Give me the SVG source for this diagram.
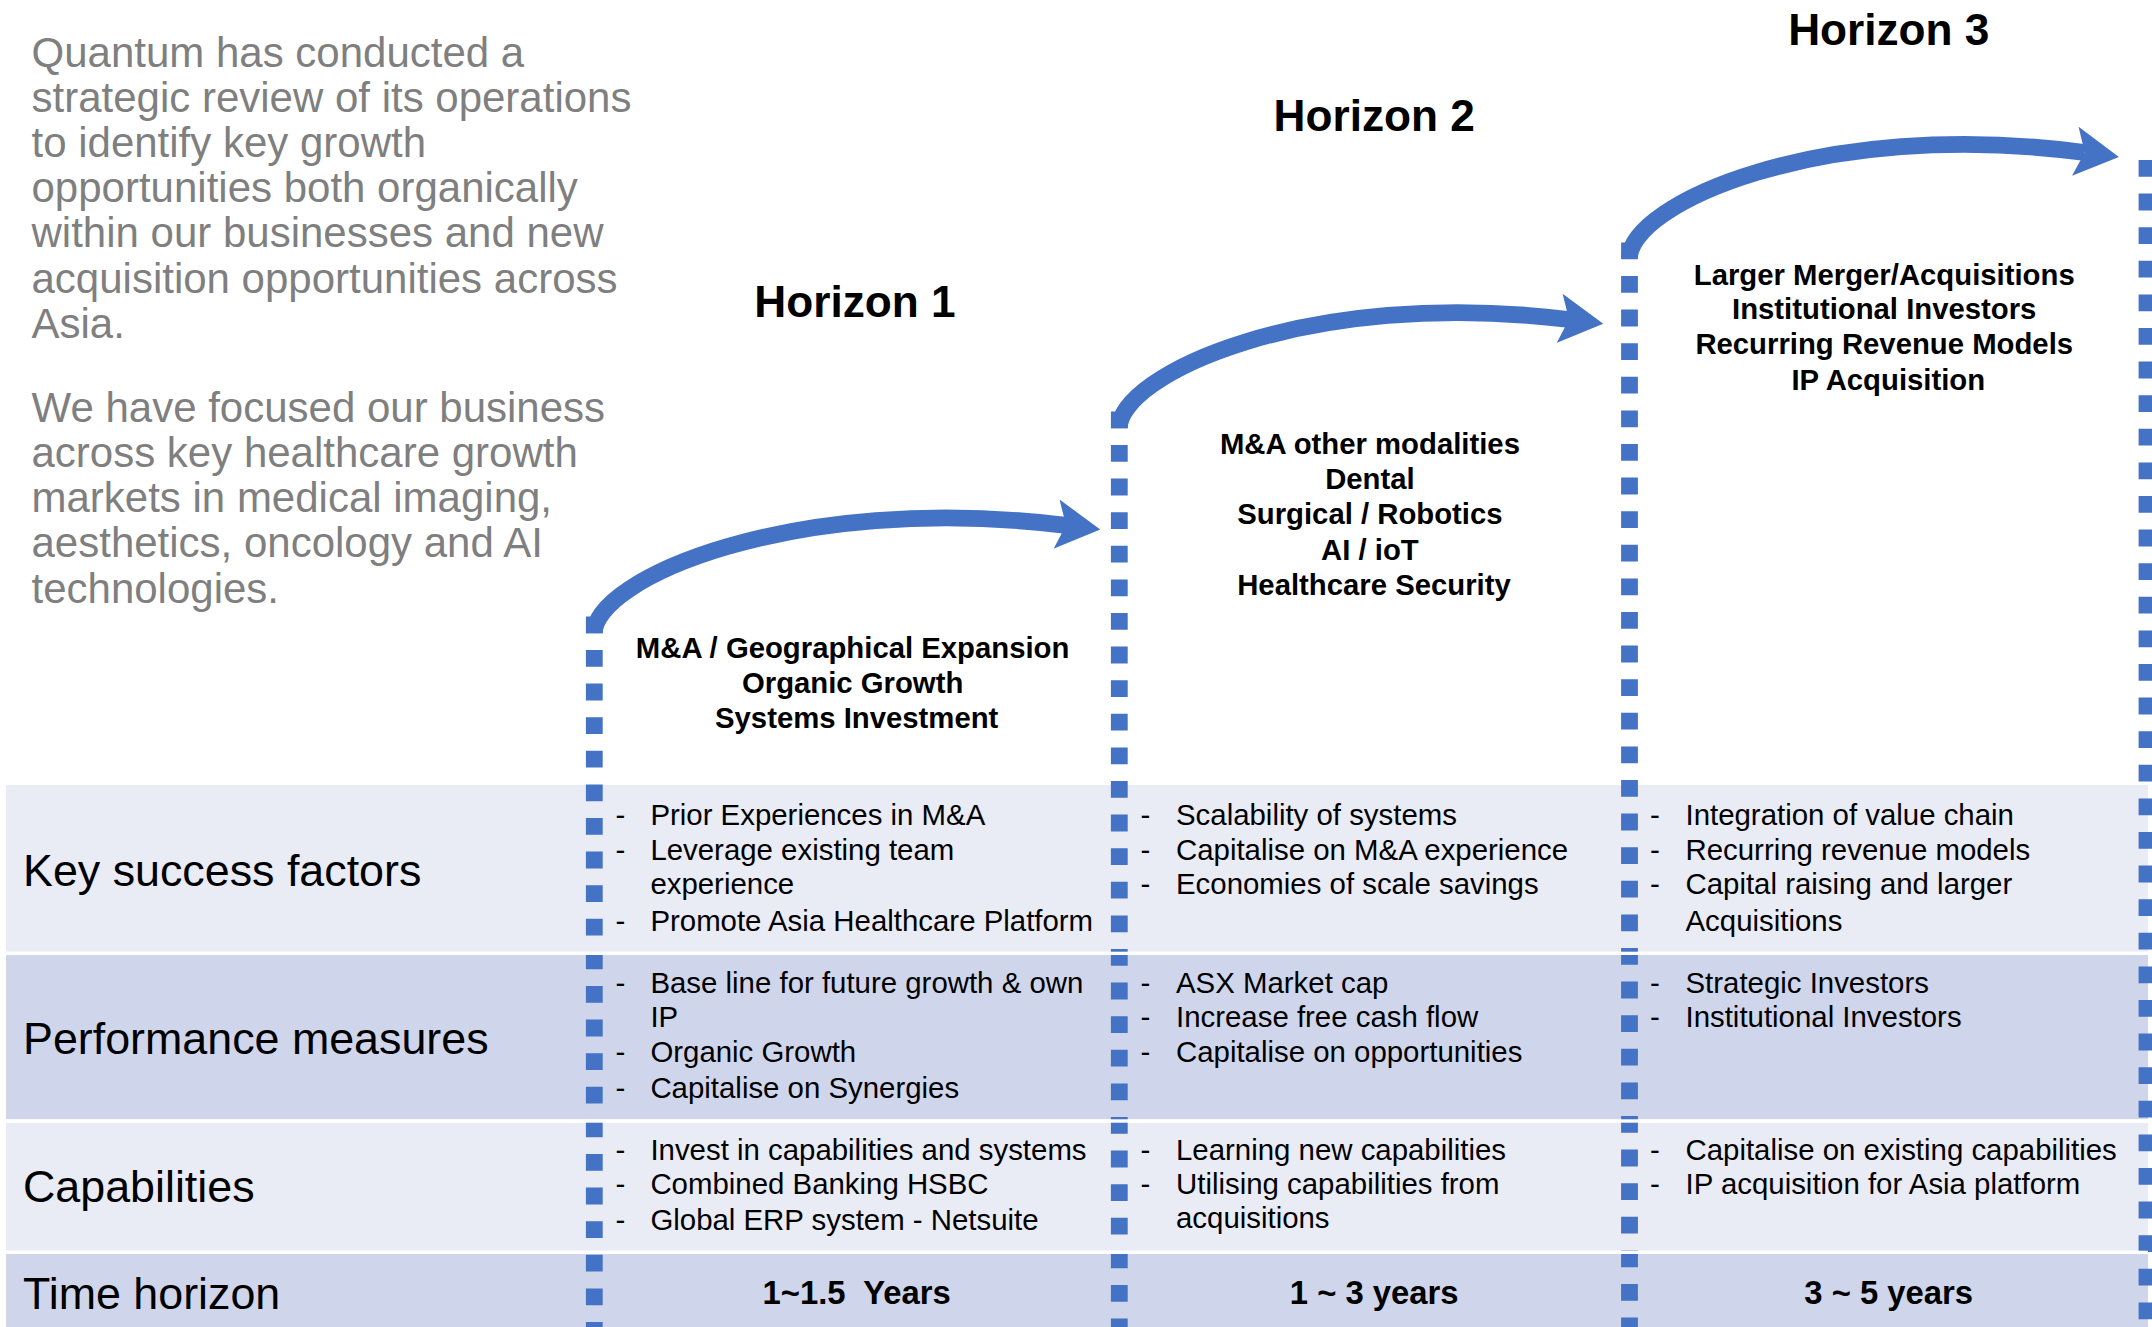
<svg xmlns="http://www.w3.org/2000/svg" width="2152" height="1327" viewBox="0 0 2152 1327">
  <defs>
    <style>
      text { font-family: "Liberation Sans", Arial, "Noto Sans", sans-serif; fill: #000; }
      .para { font-size: 42px; fill: #7F7F7F; }
      .title { font-size: 44.2px; font-weight: bold; text-anchor: middle; }
      .focus { font-size: 29.3px; font-weight: bold; text-anchor: middle; }
      .label { font-size: 44.8px; }
      .item { font-size: 29.4px; }
      .term { font-size: 32.8px; font-weight: bold; text-anchor: middle; white-space: pre; }
      .band-light { fill: #E9EBF5; }
      .band-dark { fill: #CFD5EA; }
      .sep { fill: #FFFFFF; }
      .divider { fill: none; stroke: #4472C4; stroke-width: 16.8; stroke-dasharray: 16.8 16.8; }
      .arc { fill: none; stroke: #4472C4; stroke-width: 16.8; marker-end: url(#head); }
    </style>
    <marker id="head" markerUnits="userSpaceOnUse" markerWidth="44" markerHeight="50"
            viewBox="0 0 44 50" refX="9.5" refY="25" orient="auto">
      <path d="M0,0.2 L44,25 L0,49.8 L9.5,25 Z" fill="#4472C4"/>
    </marker>
  </defs>

  <rect width="2152" height="1327" fill="#FFFFFF"/>

  <!-- table bands -->
  <g id="table-bands">
    <rect class="band-light" x="6" y="785" width="2142" height="166.7"/>
    <rect class="band-dark" x="6" y="955" width="2142" height="164.3"/>
    <rect class="band-light" x="6" y="1122.7" width="2142" height="128"/>
    <rect class="band-dark" x="6" y="1254" width="2142" height="73"/>
  </g>

  <!-- dotted horizon boundaries -->
  <g id="dividers">
    <path class="divider" d="M594.3,616.4 V1327"/>
    <path class="divider" d="M1119.3,411.4 V1327"/>
    <path class="divider" d="M1629.5,242.4 V1327"/>
    <path class="divider" d="M2147,160 V1327"/>
  </g>

  <!-- white rules between table rows -->
  <g id="row-rules">
    <rect class="sep" x="6" y="951.7" width="2142" height="3.3"/>
    <rect class="sep" x="6" y="1119.3" width="2142" height="3.4"/>
    <rect class="sep" x="6" y="1250.7" width="2142" height="3.3"/>
  </g>

  <!-- growth arrows between horizons -->
  <g id="connectors">
    <path id="arrow-h1" class="arc" d="M594.3,633.2 C594.3,580 790,492 1066,525.3"/>
    <path id="arrow-h2" class="arc" d="M1119.3,428.3 C1119.3,375.3 1305.8,287.3 1569,319.5"/>
    <path id="arrow-h3" class="arc" d="M1629.5,258.3 C1629.5,205.3 1818.4,117.3 2084.7,152.5"/>
  </g>

  <!-- introduction -->
  <g id="intro">
    <text class="para">
      <tspan x="31.5" y="66.5">Quantum has conducted a</tspan>
      <tspan x="31.5" y="111.7">strategic review of its operations</tspan>
      <tspan x="31.5" y="156.9">to identify key growth</tspan>
      <tspan x="31.5" y="202.1">opportunities both organically</tspan>
      <tspan x="31.5" y="247.3">within our businesses and new</tspan>
      <tspan x="31.5" y="292.5">acquisition opportunities across</tspan>
      <tspan x="31.5" y="337.7">Asia.</tspan>
    </text>
    <text class="para">
      <tspan x="31.5" y="421.7">We have focused our business</tspan>
      <tspan x="31.5" y="466.9">across key healthcare growth</tspan>
      <tspan x="31.5" y="512.1">markets in medical imaging,</tspan>
      <tspan x="31.5" y="557.3">aesthetics, oncology and AI</tspan>
      <tspan x="31.5" y="602.5">technologies.</tspan>
    </text>
  </g>

  <!-- horizon 1 -->
  <g id="horizon-1">
    <text class="title" x="855" y="316.7">Horizon 1</text>
    <text class="focus">
      <tspan x="856.7" y="658.3">M&amp;A / Geographical Expansion</tspan>
      <tspan x="856.7" y="693.3">Organic Growth</tspan>
      <tspan x="856.7" y="728.3">Systems Investment</tspan>
    </text>
  </g>

  <!-- horizon 2 -->
  <g id="horizon-2">
    <text class="title" x="1374.2" y="130.7">Horizon 2</text>
    <text class="focus">
      <tspan x="1374" y="454">M&amp;A other modalities</tspan>
      <tspan x="1374" y="489.3">Dental</tspan>
      <tspan x="1374" y="524">Surgical / Robotics</tspan>
      <tspan x="1374" y="560">AI / ioT</tspan>
      <tspan x="1374" y="595">Healthcare Security</tspan>
    </text>
  </g>

  <!-- horizon 3 -->
  <g id="horizon-3">
    <text class="title" x="1888.8" y="45">Horizon 3</text>
    <text class="focus">
      <tspan x="1888.3" y="285">Larger Merger/Acquisitions</tspan>
      <tspan x="1888.3" y="319.3">Institutional Investors</tspan>
      <tspan x="1888.3" y="354.3">Recurring Revenue Models</tspan>
      <tspan x="1888.3" y="390">IP Acquisition</tspan>
    </text>
  </g>

  <!-- row: key success factors -->
  <g id="row-key-success-factors">
    <text class="label" x="23" y="886">Key success factors</text>
    <text class="item">
      <tspan x="615.4" y="825">-</tspan><tspan x="650.4" y="825">Prior Experiences in M&amp;A</tspan>
      <tspan x="615.4" y="859.5">-</tspan><tspan x="650.4" y="859.5">Leverage existing team</tspan>
      <tspan x="650.4" y="894.3">experience</tspan>
      <tspan x="615.4" y="930.5">-</tspan><tspan x="650.4" y="930.5">Promote Asia Healthcare Platform</tspan>
    </text>
    <text class="item">
      <tspan x="1140.4" y="825">-</tspan><tspan x="1176" y="825">Scalability of systems</tspan>
      <tspan x="1140.4" y="859.5">-</tspan><tspan x="1176" y="859.5">Capitalise on M&amp;A experience</tspan>
      <tspan x="1140.4" y="894.3">-</tspan><tspan x="1176" y="894.3">Economies of scale savings</tspan>
    </text>
    <text class="item">
      <tspan x="1650" y="825">-</tspan><tspan x="1685.5" y="825">Integration of value chain</tspan>
      <tspan x="1650" y="859.5">-</tspan><tspan x="1685.5" y="859.5">Recurring revenue models</tspan>
      <tspan x="1650" y="894.3">-</tspan><tspan x="1685.5" y="894.3">Capital raising and larger</tspan>
      <tspan x="1685.5" y="930.5">Acquisitions</tspan>
    </text>
  </g>

  <!-- row: performance measures -->
  <g id="row-performance-measures">
    <text class="label" x="23" y="1054">Performance measures</text>
    <text class="item">
      <tspan x="615.4" y="992.7">-</tspan><tspan x="650.4" y="992.7">Base line for future growth &amp; own</tspan>
      <tspan x="650.4" y="1027.3">IP</tspan>
      <tspan x="615.4" y="1061.7">-</tspan><tspan x="650.4" y="1061.7">Organic Growth</tspan>
      <tspan x="615.4" y="1098.3">-</tspan><tspan x="650.4" y="1098.3">Capitalise on Synergies</tspan>
    </text>
    <text class="item">
      <tspan x="1140.4" y="992.7">-</tspan><tspan x="1176" y="992.7">ASX Market cap</tspan>
      <tspan x="1140.4" y="1027.3">-</tspan><tspan x="1176" y="1027.3">Increase free cash flow</tspan>
      <tspan x="1140.4" y="1061.7">-</tspan><tspan x="1176" y="1061.7">Capitalise on opportunities</tspan>
    </text>
    <text class="item">
      <tspan x="1650" y="992.7">-</tspan><tspan x="1685.5" y="992.7">Strategic Investors</tspan>
      <tspan x="1650" y="1027.3">-</tspan><tspan x="1685.5" y="1027.3">Institutional Investors</tspan>
    </text>
  </g>

  <!-- row: capabilities -->
  <g id="row-capabilities">
    <text class="label" x="23" y="1201.7">Capabilities</text>
    <text class="item">
      <tspan x="615.4" y="1160">-</tspan><tspan x="650.4" y="1160">Invest in capabilities and systems</tspan>
      <tspan x="615.4" y="1194.3">-</tspan><tspan x="650.4" y="1194.3">Combined Banking HSBC</tspan>
      <tspan x="615.4" y="1230">-</tspan><tspan x="650.4" y="1230">Global ERP system - Netsuite</tspan>
    </text>
    <text class="item">
      <tspan x="1140.4" y="1160">-</tspan><tspan x="1176" y="1160">Learning new capabilities</tspan>
      <tspan x="1140.4" y="1194.3">-</tspan><tspan x="1176" y="1194.3">Utilising capabilities from</tspan>
      <tspan x="1176" y="1228.3">acquisitions</tspan>
    </text>
    <text class="item">
      <tspan x="1650" y="1160">-</tspan><tspan x="1685.5" y="1160">Capitalise on existing capabilities</tspan>
      <tspan x="1650" y="1194.3">-</tspan><tspan x="1685.5" y="1194.3">IP acquisition for Asia platform</tspan>
    </text>
  </g>

  <!-- row: time horizon -->
  <g id="row-time-horizon">
    <text class="label" x="23" y="1308.7">Time horizon</text>
    <text class="term" x="856.7" y="1303.5" xml:space="preserve">1~1.5  Years</text>
    <text class="term" x="1374.2" y="1303.5">1 ~ 3 years</text>
    <text class="term" x="1888.7" y="1303.5">3 ~ 5 years</text>
  </g>
</svg>
